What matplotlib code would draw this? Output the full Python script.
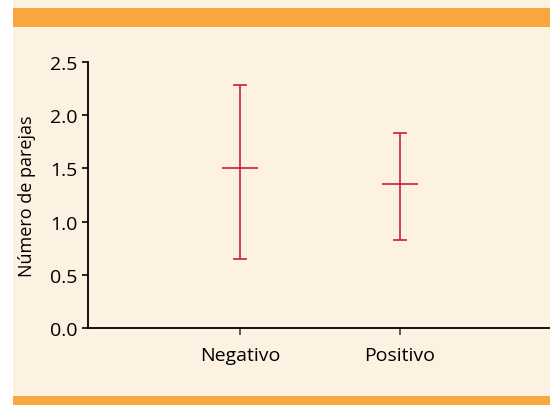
import matplotlib
matplotlib.use("Agg")
import matplotlib.pyplot as plt
from matplotlib.patches import Rectangle

categories = ["Negativo", "Positivo"]
means = [1.50, 1.35]
lower = [0.65, 0.83]
upper = [2.28, 1.83]
yticks = [0.0, 0.5, 1.0, 1.5, 2.0, 2.5]
ylabel = "Número de parejas"

W, H = 550, 406
fig = plt.figure(figsize=(W / 100, H / 100), dpi=100, facecolor="white")
plt.rcParams['font.family'] = ['Open Sans', 'DejaVu Sans']

cream = "#fdf1e2"
orange = "#f9a63f"
x0 = 13 / W
fig.patches.append(Rectangle((x0, 0), 1 - x0, 1, transform=fig.transFigure,
                             facecolor=cream, edgecolor="none", zorder=-10))
fig.patches.append(Rectangle((x0, 1 - 28 / H), 1 - x0, (28 - 8.8) / H,
                             transform=fig.transFigure, facecolor=orange,
                             edgecolor="none", zorder=-9))
fig.patches.append(Rectangle((x0, 0), 1 - x0, (H - 396.5) / H,
                             transform=fig.transFigure, facecolor=orange,
                             edgecolor="none", zorder=-9))

left = 88 / W
bottom = (H - 329.3) / H
top = (H - 62.7) / H
ax = fig.add_axes([left, bottom, 1 - left, top - bottom])
ax.set_facecolor("none")

xpos = list(range(len(categories)))
red = "#c8102e"
yerr = [[m - l for m, l in zip(means, lower)], [u - m for m, u in zip(means, upper)]]
ax.errorbar(xpos, means, yerr=yerr, fmt="none", ecolor=red, elinewidth=1.3,
            capsize=5, capthick=1.3, alpha=0.85)
ax.errorbar(xpos, means, xerr=0.11, fmt="none", ecolor=red, elinewidth=1.3,
            capsize=0, alpha=0.85)

ax.set_xlim(-0.95, 1.9375)
ax.set_ylim(0, 2.5)
ax.set_xticks(xpos)
ax.set_xticklabels(categories)
ax.set_yticks(yticks)
ax.set_yticklabels([f"{v:.1f}" for v in yticks])
ax.set_ylabel(ylabel, fontsize=13, labelpad=10)

for s in ["top", "right"]:
    ax.spines[s].set_visible(False)
for s in ["left", "bottom"]:
    ax.spines[s].set_linewidth(1.3)
    ax.spines[s].set_color("black")
ax.tick_params(axis="y", length=4.5, width=1.2, labelsize=14, pad=3, colors="black")
ax.tick_params(axis="x", length=5, width=1.2, labelsize=14, pad=8, color="#444444")

fig.savefig("out.png", dpi=100, facecolor="white")
